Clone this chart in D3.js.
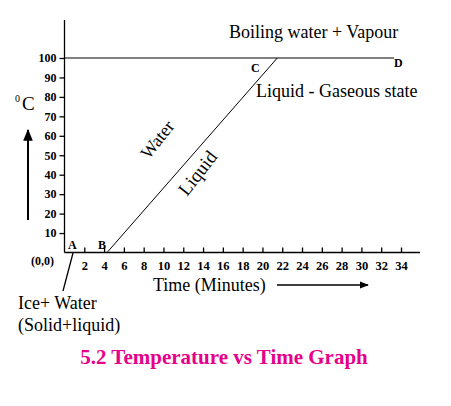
<!DOCTYPE html>
<html><head><meta charset="utf-8">
<script src="https://cdn.jsdelivr.net/npm/d3@7"></script>
<style>body{margin:0;background:#fff}</style></head>
<body><svg id="c" width="451" height="406"></svg>
<script>
const xTicks = [2,4,6,8,10,12,14,16,18,20,22,24,26,28,30,32,34];
const yTicks = [10,20,30,40,50,60,70,80,90,100];
const heatingTimes = [4.3, 21.5];
const heatingTemps = [0, 100];
const boilingTimes = [0, 33.3];
const boilingTemps = [100, 100];

const svg = d3.select('#c');
const x = d3.scaleLinear().domain([0, 34]).range([64.5, 401]);
const y = d3.scaleLinear().domain([0, 100]).range([252.5, 58]);
const serif = 'Liberation Serif, Times New Roman, serif';

svg.append('defs').append('marker').attr('id','ah').attr('viewBox','0 0 10 10')
  .attr('refX',9).attr('refY',5).attr('markerWidth',6).attr('markerHeight',6).attr('orient','auto')
  .append('path').attr('d','M0,1L10,5L0,9z').attr('fill','#000');

const gx = svg.append('g').attr('transform','translate(0,252.5)').call(d3.axisBottom(x).tickValues(xTicks).tickSize(-5).tickSizeOuter(0).tickPadding(9));
gx.select('.domain').attr('d','M64.5,0H420');
gx.selectAll('text').style('font-family',serif).style('font-weight','bold').style('font-size','12.5px');
const gy = svg.append('g').attr('transform','translate(64.5,0)').call(d3.axisLeft(y).tickValues(yTicks).tickSize(5).tickSizeOuter(0).tickPadding(3));
gy.select('.domain').attr('d','M0,20V252.5');
gy.selectAll('text').style('font-family',serif).style('font-weight','bold').style('font-size','12px');
svg.selectAll('.domain, .tick line').attr('stroke','#000').attr('stroke-width',1.3);

const line = d3.line().x(d=>x(d[0])).y(d=>y(d[1]));
svg.append('path').attr('d', line(heatingTimes.map((t,i)=>[t,heatingTemps[i]]))).attr('stroke','#000').attr('fill','none');
svg.append('path').attr('d', line(boilingTimes.map((t,i)=>[t,boilingTemps[i]]))).attr('stroke','#000').attr('fill','none');

function t(txt,xx,yy,opt={}){
  const e = svg.append('text').attr('x',xx).attr('y',yy).text(txt)
    .style('font-family',serif).style('font-size',(opt.size||18)+'px')
    .style('font-weight',opt.bold?'bold':'normal').attr('fill',opt.fill||'#000')
    .attr('text-anchor',opt.anchor||'start');
  if(opt.rot) e.attr('transform',`rotate(${opt.rot},${xx},${yy})`);
  return e;
}
t('A',68,249,{size:12,bold:true});
t('B',98,249,{size:12,bold:true});
t('C',251,72,{size:12,bold:true});
t('D',394,67,{size:12,bold:true});
t('(0,0)',31,265,{size:12,bold:true});
t('Boiling water + Vapour',229,38);
t('Liquid - Gaseous state',256,97);
t('Water',149,160,{rot:-52});
t('Liquid',187,197,{rot:-52,size:19});
t('Time (Minutes)',153,291);
t('C',22,110,{size:19});
t('0',15,102,{size:10});
t('Ice+ Water',18,309);
t('(Solid+liquid)',18,331);
t('5.2 Temperature vs Time Graph',224,364,{size:21,bold:true,fill:'#e6008a',anchor:'middle'});

svg.append('line').attr('x1',73).attr('y1',253).attr('x2',63).attr('y2',291).attr('stroke','#000').attr('stroke-width',1.3);
svg.append('line').attr('x1',28).attr('y1',220).attr('x2',28).attr('y2',130).attr('stroke','#000').attr('stroke-width',2).attr('marker-end','url(#ah)');
svg.append('line').attr('x1',277).attr('y1',285).attr('x2',368).attr('y2',285).attr('stroke','#000').attr('stroke-width',1.5).attr('marker-end','url(#ah)');
</script></body></html>
